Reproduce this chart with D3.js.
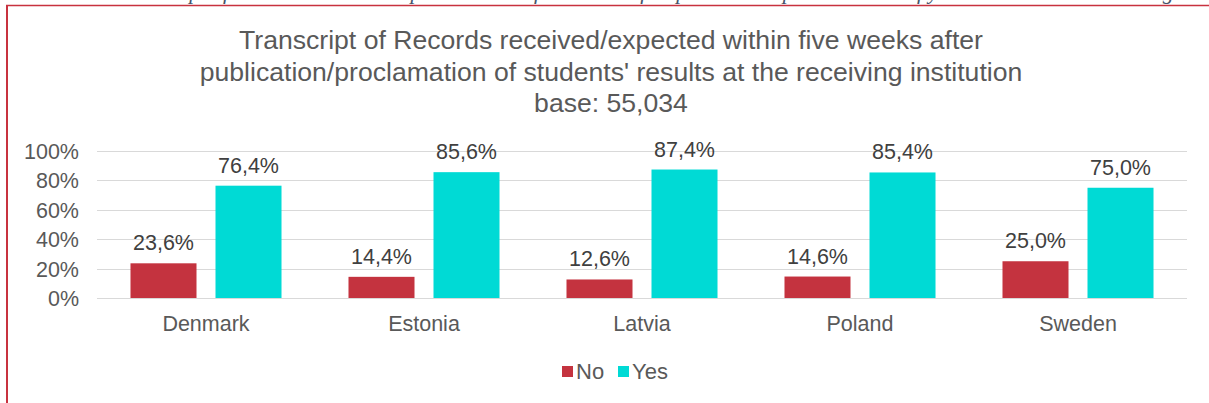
<!DOCTYPE html>
<html><head><meta charset="utf-8">
<script src="https://cdn.jsdelivr.net/npm/d3@7"></script>
<style>html,body{margin:0;padding:0;background:#fff;overflow:hidden}</style>
</head><body>
<svg id="c" width="1209" height="403"></svg>
<script>
const categories = ["Denmark","Estonia","Latvia","Poland","Sweden"];
const seriesNames = ["No","Yes"];
const noValues = [23.6,14.4,12.6,14.6,25.0];
const yesValues = [76.4,85.6,87.4,85.4,75.0];
const yTicks = [0,20,40,60,80,100];
const titleLines = ["Transcript of Records received/expected within five weeks after","publication/proclamation of students' results at the receiving institution","base: 55,034"];
const colors = ["#C4333F","#00DAD5"];

const svg = d3.select("#c");
const font = "'Liberation Sans', Arial, sans-serif";

// cut-off header text and frame
svg.append("text").attr("x",20).attr("y",-1).attr("font-family","'Liberation Serif', serif").attr("font-style","italic")
  .attr("font-size",22).attr("fill","#44546A")
  .text("Indicator: Transcript of Records received/expected within five weeks after publication/proclamation of your results at the receiving institution.");
svg.append("line").attr("x1",6).attr("x2",1209).attr("y1",5.5).attr("y2",5.5).attr("stroke","#C8323F").attr("stroke-width",1.5);
svg.append("line").attr("x1",7).attr("x2",7).attr("y1",5).attr("y2",403).attr("stroke","#C8323F").attr("stroke-width",2);

// title
svg.append("g").selectAll("text").data(titleLines).join("text")
  .attr("x",611).attr("y",(d,i)=>49+i*31.5).attr("text-anchor","middle")
  .attr("font-family",font).attr("font-size",26.6).attr("fill","#595959").text(d=>d);

const x0 = d3.scaleBand().domain(categories).range([97,1187]).paddingInner(0).paddingOuter(0);
const x1 = d3.scaleBand().domain(seriesNames).range([0,x0.bandwidth()]).paddingInner(0.2235).paddingOuter(0.394);
const y = d3.scaleLinear().domain([0,100]).range([298,151]);

// grid
svg.append("g").selectAll("line").data(yTicks).join("line")
  .attr("x1",97).attr("x2",1187).attr("y1",d=>Math.round(y(d))+0.5).attr("y2",d=>Math.round(y(d))+0.5)
  .attr("stroke","#D9D9D9").attr("stroke-width",1.2);

// y axis labels
const yAxis = d3.axisLeft(y).tickValues(yTicks).tickFormat(d=>d+"%").tickSize(0).tickPadding(0);
const ga = svg.append("g").attr("transform","translate(79,0)").call(yAxis);
ga.select(".domain").remove();
ga.selectAll("text").attr("font-family",font).attr("font-size",21.5).attr("fill","#595959").attr("dy","0.35em");

// x axis labels
const xAxis = d3.axisBottom(x0).tickSize(0).tickPadding(0);
const gx = svg.append("g").attr("transform","translate(0,331)").call(xAxis);
gx.select(".domain").remove();
gx.selectAll("text").attr("font-family",font).attr("font-size",21.5).attr("fill","#595959").attr("y",0).attr("dy",0);

const data = categories.map((c,i)=>({cat:c, vals:[{s:"No",v:noValues[i]},{s:"Yes",v:yesValues[i]}]}));
const groups = svg.append("g").selectAll("g").data(data).join("g")
  .attr("transform",d=>`translate(${x0(d.cat)},0)`);
groups.selectAll("rect").data(d=>d.vals).join("rect")
  .attr("x",d=>x1(d.s)).attr("width",x1.bandwidth())
  .attr("y",d=>y(d.v)).attr("height",d=>y(0)-y(d.v))
  .attr("fill",(d,i)=>colors[i]);
groups.selectAll("text").data(d=>d.vals).join("text")
  .attr("x",d=>x1(d.s)+x1.bandwidth()/2).attr("y",d=>y(d.v)-13)
  .attr("text-anchor","middle").attr("font-family",font).attr("font-size",21.5).attr("fill","#404040")
  .text(d=>d.v.toFixed(1).replace(".",",")+"%");

// legend
const lg = svg.append("g");
const legX = [562,618];
seriesNames.forEach((s,i)=>{
  lg.append("rect").attr("x",legX[i]).attr("y",366).attr("width",11).attr("height",11).attr("fill",colors[i]);
  lg.append("text").attr("x",legX[i]+14).attr("y",379).attr("font-family",font).attr("font-size",22).attr("fill","#595959").text(s);
});
</script>
</body></html>
